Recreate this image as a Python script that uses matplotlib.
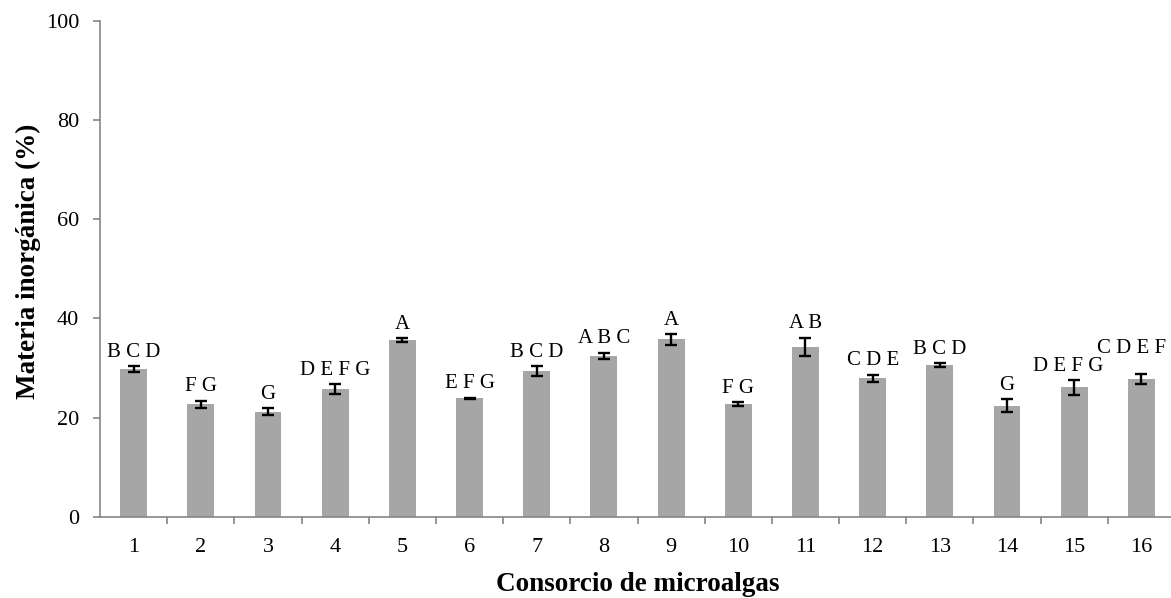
import matplotlib
matplotlib.use("Agg")
import matplotlib.pyplot as plt
import numpy as np

# datos
consorcios = [str(i) for i in range(1, 17)]
materia_inorg = [29.8, 22.7, 21.2, 25.7, 35.6, 23.9, 29.4, 32.4,
                 35.8, 22.7, 34.3, 27.9, 30.6, 22.4, 26.1, 27.7]
error = [0.6, 0.7, 0.7, 1.0, 0.4, 0.1, 0.95, 0.7,
         1.1, 0.45, 1.8, 0.75, 0.35, 1.25, 1.5, 1.0]
letras = ['B C D', 'F G', 'G', 'D E F G', 'A', 'E F G', 'B C D', 'A B C',
          'A', 'F G', 'A B', 'C D E', 'B C D', 'G', 'D E F G', 'C D E F']

# ajuste manual de las letras que se pisan al final (en puntos)
desplaza = {14: (-4.3, 3), 15: (-7.2, 11.5)}

plt.rcParams['font.family'] = ['Liberation Serif', 'DejaVu Serif']

fig = plt.figure(figsize=(11.71, 5.98), dpi=100)
# el eje x se sale un poco por la derecha, como en la imagen original
ax = fig.add_axes([100 / 1171, 1 - 516.7 / 598, 1075 / 1171, 496 / 598])

x = np.arange(len(consorcios))
ax.bar(x, materia_inorg, width=0.4, color='#a6a6a6', zorder=2)
ax.errorbar(x, materia_inorg, yerr=error, fmt='none', ecolor='black',
            elinewidth=1.7, capsize=4.3, capthick=1.7, zorder=3)

for i, (xi, v, e, t) in enumerate(zip(x, materia_inorg, error, letras)):
    off = desplaza.get(i, (0, 3))
    ax.annotate(t, xy=(xi, v + e), xytext=off, textcoords='offset points',
                ha='center', va='bottom', fontsize=15)

ax.set_xlim(-0.5, len(consorcios) - 0.5)
ax.set_ylim(0, 100)
ax.set_yticks(np.arange(0, 101, 20))
ax.set_xticks(x)
ax.set_xticklabels(consorcios)
ax.set_xticks(np.arange(0.5, len(consorcios) - 0.5, 1), minor=True)
ax.tick_params(axis='x', which='major', length=0, pad=15, labelsize=16)
ax.tick_params(axis='x', which='minor', length=5, width=1.2, color='#868686',
               direction='out')
ax.tick_params(axis='y', length=5, width=1.2, color='#868686', pad=10,
               labelsize=16)

for s in ['top', 'right']:
    ax.spines[s].set_visible(False)
for s in ['left', 'bottom']:
    ax.spines[s].set_color('#868686')
    ax.spines[s].set_linewidth(1.2)

ax.set_xlabel('Consorcio de microalgas', fontsize=19.5, fontweight='bold',
              labelpad=11)
ax.set_ylabel('Materia inorgánica (%)', fontsize=19.5, fontweight='bold')
ax.yaxis.set_label_coords(-0.055, 0.515)

fig.savefig('out.png', dpi=100)
